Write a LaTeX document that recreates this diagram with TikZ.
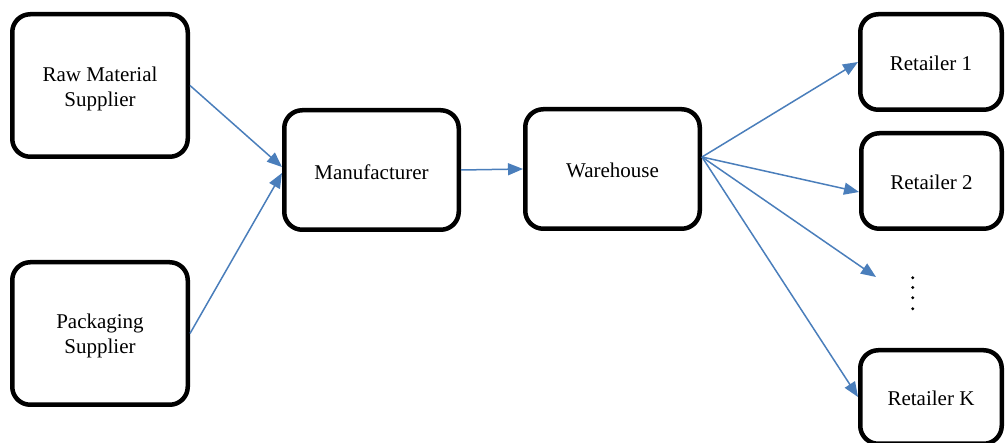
\documentclass[tikz,border=0pt]{standalone}
\usepackage{fontspec}
\setmainfont{Liberation Serif}
\usetikzlibrary{arrows.meta}
\definecolor{arrowblue}{HTML}{4A7EBB}
\begin{document}
\begin{tikzpicture}[x=1pt,y=-1pt,
  box/.style={draw=black,line width=4.5pt,rounded corners=18pt,inner sep=0pt},
  boxtext/.style={align=center,font=\fontsize{21}{25}\selectfont,inner sep=0pt},
  conn/.style={draw=arrowblue,line width=1.5pt,-{Triangle[length=15pt,width=12pt]}}]
\useasboundingbox (0,0) rectangle (1005,443);
\node[box,minimum width=175.5pt,minimum height=142.5pt] (raw) at (100,85.5) {};
\node[box,minimum width=175.5pt,minimum height=142.5pt] (pack) at (100,333.5) {};
\node[box,minimum width=174.5pt,minimum height=119.5pt] (manuf) at (371.5,170) {};
\node[box,minimum width=174.5pt,minimum height=119.5pt] (ware) at (612.5,169) {};
\node[box,minimum width=141.5pt,minimum height=95.5pt] (r1) at (931,62) {};
\node[box,minimum width=140.5pt,minimum height=95.5pt] (r2) at (931.5,181) {};
\node[box,minimum width=141.5pt,minimum height=93.5pt] (rK) at (931,397) {};
\node[boxtext] (rawt) at ([yshift=-3pt]raw.center) {Raw Material\\Supplier};
\node[boxtext] (packt) at ([yshift=-2pt]pack.center) {Packaging\\Supplier};
\node[boxtext] (manuft) at ([yshift=-2.5pt]manuf.center) {Manufacturer};
\node[boxtext] (waret) at ([yshift=-1.5pt]ware.center) {Warehouse};
\node[boxtext] (r1t) at ([yshift=-1pt]r1.center) {Retailer 1};
\node[boxtext] (r2t) at ([yshift=-1pt]r2.center) {Retailer 2};
\node[boxtext] (rKt) at ([yshift=-1pt]rK.center) {Retailer K};
\foreach \yy in {277.7,287.5,297.7,308.7}
  \fill (912.7,\yy) circle (1.6pt);
\coordinate (dotsend) at (876,277);
\coordinate (fan) at ([yshift=12pt]ware.east);
\draw[conn] (raw.east) -- ([yshift=3pt]manuf.west);
\draw[conn] (pack.east) -- ([yshift=-3pt]manuf.west);
\draw[conn] (manuf.east) -- (ware.west);
\draw[conn] (fan) -- (r1.west);
\draw[conn] (fan) -- ([yshift=-11pt]r2.west);
\draw[conn] (fan) -- (dotsend);
\draw[conn] (fan) -- (rK.west);
\end{tikzpicture}
\end{document}
